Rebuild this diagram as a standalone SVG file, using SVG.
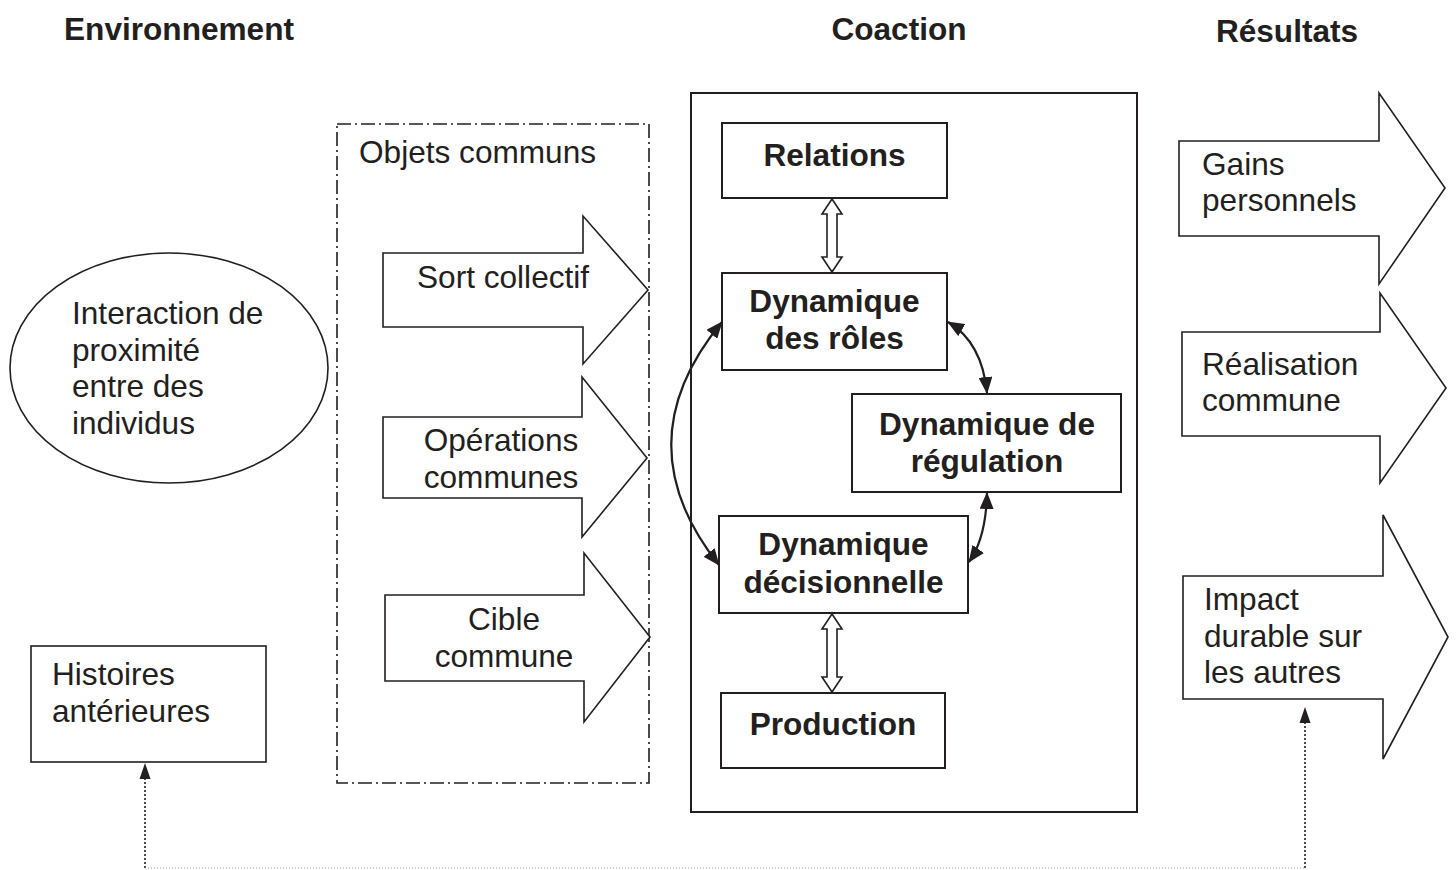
<svg xmlns="http://www.w3.org/2000/svg" width="1456" height="870" viewBox="0 0 1456 870">
<defs>
<style>
.bx{fill:#fff;stroke:#231f20;stroke-width:2}
.sh{fill:#fff;stroke:#231f20;stroke-width:1.6}
.t{font-family:"Liberation Sans",Arial,sans-serif;font-size:31.6px;fill:#231f20}
.b{font-family:"Liberation Sans",Arial,sans-serif;font-size:31.6px;font-weight:bold;fill:#231f20}
.m{text-anchor:middle}
.cv{fill:none;stroke:#231f20;stroke-width:2.2}
.dt{fill:none;stroke:#231f20;stroke-width:1.6;stroke-dasharray:2 2}
</style>
<marker id="ah" viewBox="0 0 17 14" refX="16" refY="7" markerWidth="17" markerHeight="14" markerUnits="userSpaceOnUse" orient="auto-start-reverse">
<path d="M0,0 L17,7 L0,14 z" fill="#231f20"/>
</marker>
</defs>
<rect width="1456" height="870" fill="#fff"/>

<g id="headers">
<text class="b m" x="179" y="40">Environnement</text>
<text class="b m" x="899" y="40">Coaction</text>
<text class="b m" x="1287" y="42">Résultats</text>
</g>

<g id="interaction">
<ellipse class="sh" cx="169" cy="368" rx="159" ry="115"/>
<text class="t" x="72" y="324">Interaction de</text>
<text class="t" x="72" y="361">proximité</text>
<text class="t" x="72" y="397">entre des</text>
<text class="t" x="72" y="434">individus</text>
</g>

<g id="histoires">
<rect class="sh" x="31" y="646" width="235" height="116"/>
<text class="t" x="52" y="685">Histoires</text>
<text class="t" x="52" y="722">antérieures</text>
</g>

<g id="objets">
<rect x="337" y="124" width="312" height="659" fill="none" stroke="#231f20" stroke-width="1.6" stroke-dasharray="14 4 2 4"/>
<text class="t" x="359" y="163">Objets communs</text>
</g>

<g id="sort">
<polygon class="sh" points="383,253 583,253 583,216 648,290 583,364 583,327 383,327"/>
<text class="t" x="417" y="288">Sort collectif</text>
</g>

<g id="operations">
<polygon class="sh" points="383,417 582,417 582,377 647,458 582,537 582,498 383,498"/>
<text class="t m" x="501" y="451">Opérations</text>
<text class="t m" x="501" y="488">communes</text>
</g>

<g id="cible">
<polygon class="sh" points="385,595 584,595 584,553 650,637 584,722 584,681 385,681"/>
<text class="t m" x="504" y="630">Cible</text>
<text class="t m" x="504" y="667">commune</text>
</g>

<g id="coaction">
<rect class="bx" x="691" y="93" width="446" height="719"/>
</g>

<g id="relations">
<rect class="bx" x="722" y="123" width="225" height="75"/>
<text class="b m" x="834.5" y="166">Relations</text>
</g>

<g id="roles">
<rect class="bx" x="722" y="273" width="225" height="97"/>
<text class="b m" x="834.5" y="312">Dynamique</text>
<text class="b m" x="834.5" y="349">des rôles</text>
</g>

<g id="regulation">
<rect class="bx" x="852" y="394" width="269" height="98"/>
<text class="b m" x="987" y="435">Dynamique de</text>
<text class="b m" x="987" y="472">régulation</text>
</g>

<g id="decisionnelle">
<rect class="bx" x="719" y="516" width="249" height="97"/>
<text class="b m" x="843.5" y="555">Dynamique</text>
<text class="b m" x="843.5" y="593">décisionnelle</text>
</g>

<g id="production">
<rect class="bx" x="721" y="693" width="224" height="75"/>
<text class="b m" x="833" y="735">Production</text>
</g>

<g id="gains">
<polygon class="sh" points="1179,141 1379,141 1379,93 1445,188 1379,284 1379,236 1179,236"/>
<text class="t" x="1202" y="175">Gains</text>
<text class="t" x="1202" y="211">personnels</text>
</g>

<g id="realisation">
<polygon class="sh" points="1182,332 1380,332 1380,293 1446,388 1380,483 1380,436 1182,436"/>
<text class="t" x="1202" y="375">Réalisation</text>
<text class="t" x="1202" y="411">commune</text>
</g>

<g id="impact">
<polygon class="sh" points="1183,576 1383,576 1383,515 1448,637 1383,759 1383,699 1183,699"/>
<text class="t" x="1204" y="610">Impact</text>
<text class="t" x="1204" y="647">durable sur</text>
<text class="t" x="1204" y="683">les autres</text>
</g>

<g id="connectors">
<polygon class="sh" stroke-width="1.5" points="832,199 842,214 837,214 837,257 842,257 832,272 822,257 827,257 827,214 822,214"/>
<polygon class="sh" stroke-width="1.5" points="832,614 842,629 837,629 837,677 842,677 832,692 822,677 827,677 827,629 822,629"/>
<path class="cv" d="M722,322 Q622,443 719,565" marker-start="url(#ah)" marker-end="url(#ah)"/>
<path class="cv" d="M948,322 Q982,342 987,393" marker-start="url(#ah)" marker-end="url(#ah)"/>
<path class="cv" d="M987,493 Q986,538 969,562" marker-start="url(#ah)" marker-end="url(#ah)"/>
<path class="dt" d="M145,868 L145,772"/>
<polygon points="145,763 139.5,779 150.5,779" fill="#231f20"/>
<path class="dt" d="M1305,868 L1305,716"/>
<polygon points="1305,707 1299.5,723 1310.5,723" fill="#231f20"/>
<path d="M145,868 L1305,868" fill="none" stroke="#9a9a9a" stroke-width="1.2" stroke-dasharray="1 2"/>
</g>
</svg>
